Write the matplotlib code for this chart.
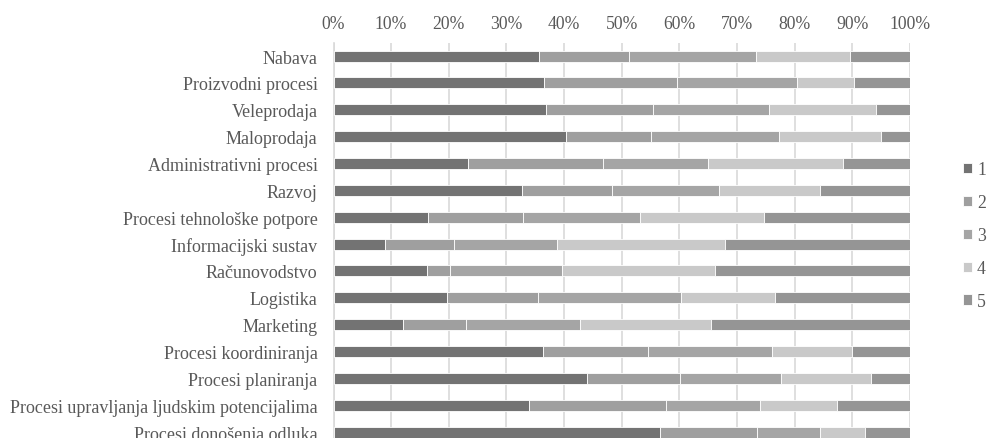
import numpy as np
import matplotlib
matplotlib.use("Agg")
import matplotlib.pyplot as plt
from matplotlib.ticker import PercentFormatter

plt.rcParams['font.family'] = ['Liberation Serif', 'DejaVu Serif']

categories = [
    "Nabava",
    "Proizvodni procesi",
    "Veleprodaja",
    "Maloprodaja",
    "Administrativni procesi",
    "Razvoj",
    "Procesi tehnološke potpore",
    "Informacijski sustav",
    "Računovodstvo",
    "Logistika",
    "Marketing",
    "Procesi koordiniranja",
    "Procesi planiranja",
    "Procesi upravljanja ljudskim potencijalima",
    "Procesi donošenja odluka",
]

# shares (%) of answers 1..5 per category
s1 = [35.6, 36.5, 36.9, 40.3, 23.4, 32.7, 16.4, 8.9, 16.2, 19.7, 12.1, 36.3, 44.0, 33.9, 56.6]
s2 = [15.7, 23.0, 18.6, 14.8, 23.3, 15.6, 16.5, 12.0, 4.0, 15.7, 10.9, 18.3, 16.1, 23.7, 16.9]
s3 = [22.0, 20.9, 20.0, 22.1, 18.3, 18.6, 20.3, 17.8, 19.4, 24.9, 19.8, 21.5, 17.5, 16.3, 10.9]
s4 = [16.3, 9.8, 18.6, 17.7, 23.3, 17.5, 21.5, 29.2, 26.6, 16.3, 22.7, 13.8, 15.6, 13.4, 7.8]
s5 = [10.4, 9.8, 5.9, 5.1, 11.7, 15.6, 25.3, 32.1, 33.8, 23.4, 34.5, 10.1, 6.8, 12.7, 7.8]
series_names = ["1", "2", "3", "4", "5"]
colors = ["#737373", "#9f9f9f", "#a5a5a5", "#c9c9c9", "#959595"]

text_col = "#595959"
fs = 13
fig = plt.figure(figsize=(9.88, 4.39), dpi=100)
ax = fig.add_axes([333.5 / 988, -0.017, (910 - 333.5) / 988, 0.9177])

y = np.arange(len(categories))
left = np.zeros(len(categories))
for name, vals, c in zip(series_names, [s1, s2, s3, s4, s5], colors):
    vals = np.array(vals)
    ax.barh(y, vals, left=left, height=0.41, color=c, edgecolor="white",
            linewidth=0.6, label=name, zorder=3)
    left += vals

ax.set_ylim(len(categories) - 0.5, -0.5)
ax.set_xlim(0, 100)
ax.set_xticks(np.arange(0, 101, 10))
ax.xaxis.set_major_formatter(PercentFormatter(decimals=0))
ax.xaxis.tick_top()
ax.set_yticks(y)
ax.set_yticklabels(categories)
ax.tick_params(axis="both", length=0, labelsize=fs, colors=text_col)
ax.tick_params(axis="x", labelsize=12.7, pad=7.4)
ax.tick_params(axis="y", pad=11.5)
ax.grid(axis="x", color="#d9d9d9", linewidth=1.2, zorder=0)
for s in ["top", "right", "bottom"]:
    ax.spines[s].set_visible(False)
ax.spines["left"].set_color("#d9d9d9")
ax.spines["left"].set_linewidth(1.2)

leg = fig.legend(loc="center left", bbox_to_anchor=(963 / 988, 1 - 236.5 / 439),
                 frameon=False, handlelength=0.5, handleheight=0.5,
                 handletextpad=0.3, labelspacing=0.9, fontsize=12.7,
                 borderaxespad=0, borderpad=0)
for t in leg.get_texts():
    t.set_color(text_col)

fig.savefig("out.png", dpi=100)
